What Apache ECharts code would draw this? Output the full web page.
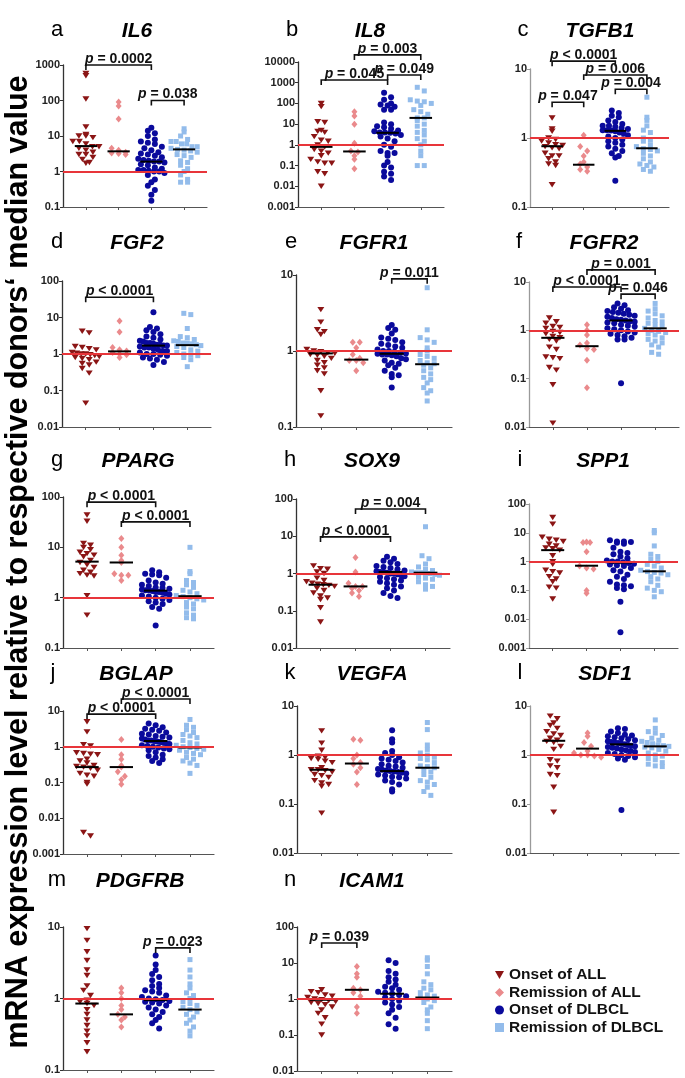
<!DOCTYPE html>
<html><head><meta charset="utf-8">
<script src="https://cdn.jsdelivr.net/npm/echarts@6/dist/echarts.min.js"></script>
<style>html,body{margin:0;padding:0;background:#fff}#c{width:685px;height:1078px}</style>
</head><body><div id="c"></div>
<script>
const GROUPS = ['Onset of ALL','Remission of ALL','Onset of DLBCL','Remission of DLBCL'];
const GENES = ['IL6','IL8','TGFB1','FGF2','FGFR1','FGFR2','PPARG','SOX9','SPP1','BGLAP','VEGFA','SDF1','PDGFRB','ICAM1'];
const LETTERS = ['a','b','c','d','e','f','g','h','i','j','k','l','m','n'];
const Y_MIN = [0.1,0.001,0.1,0.01,0.1,0.01,0.1,0.01,0.001,0.001,0.01,0.01,0.1,0.01];
const Y_MAX = [1000,10000,10,100,10,10,100,100,100,10,10,10,10,100];

const IL6 = [
 [580,500,110,18,11,10,10,9,7,7,6,5,5,4.5,4,3.5,3,3,2.5,2.2,1.8,1.7],
 [90,70,30,4.5,4,3.5,3.3,3.2,3],
 [17,14,12,10,8,7,6.5,6,5,4.5,4,3.5,3.2,3,2.8,2.5,2.3,2.1,2,1.9,1.9,1.8,1.6,1.5,1.3,1.2,1.1,1.1,1.05,1,1,0.9,0.8,0.6,0.5,0.4,0.3,0.22,0.15],
 [16,13,10,8,7,7,6,6,5,5,4.5,4.2,4,3.8,3.5,3,2.8,2.5,2,1.8,1.5,1.2,1,0.8,0.6,0.5,0.5]];
const IL8 = [
 [100,70,13,12,5,4.5,4,2.5,1.7,1.5,1,0.8,0.6,0.5,0.4,0.3,0.2,0.15,0.13,0.13,0.05,0.04,0.01],
 [40,25,10,1.2,0.5,0.45,0.3,0.2,0.07],
 [330,200,150,100,90,80,70,50,50,12,10,8,7,6,5,4.5,4,4,3.8,3.5,3,2.5,2,1.5,1,0.8,0.5,0.4,0.4,0.3,0.15,0.1,0.08,0.05,0.04,0.03,0.02],
 [600,400,150,130,120,100,80,50,40,30,20,15,20,10,8,5,4,3,2,1.5,1,0.5,0.3,0.1,0.1]];
const TGFB1 = [
 [1.95,1.35,1.25,1.0,0.95,0.9,0.85,0.8,0.78,0.75,0.72,0.7,0.6,0.55,0.55,0.5,0.45,0.42,0.4,0.21],
 [1.1,0.75,0.65,0.55,0.45,0.42,0.38,0.35,0.33],
 [2.5,2.3,2.1,2.0,1.8,1.7,1.6,1.5,1.5,1.45,1.4,1.35,1.3,1.3,1.28,1.25,1.2,1.15,1.1,1.05,1.0,0.95,0.9,0.85,0.8,0.75,0.7,0.65,0.6,0.55,0.52,0.24],
 [3.9,2.0,1.8,1.5,1.3,1.2,1.0,0.95,0.9,0.8,0.75,0.7,0.68,0.65,0.6,0.55,0.5,0.45,0.42,0.4,0.38,0.35,0.33]];
const FGF2 = [
 [4.2,3.8,1.6,1.5,1.4,1.3,1.1,1.05,1.0,1.0,0.95,0.9,0.85,0.8,0.75,0.7,0.6,0.55,0.5,0.4,0.3,0.045],
 [8,4,1.5,1.3,1.2,1.1,1.0,0.95,0.8],
 [14,5.5,5,4.5,4,3.5,3,2.8,2.5,2.3,2.2,2,2,1.9,1.8,1.8,1.7,1.7,1.6,1.5,1.5,1.4,1.3,1.2,1.2,1.1,1.0,1.0,0.95,0.9,0.8,0.75,0.7,0.6,0.5],
 [13,12,5,3,2.8,2.5,2.3,2.2,2,2,1.9,1.8,1.7,1.6,1.5,1.3,1.2,1.1,1,0.95,0.9,0.8,0.7,0.45]];
const FGFR1 = [
 [3.5,2.4,1.9,1.8,1.65,1.05,1.0,0.98,0.95,0.93,0.9,0.88,0.85,0.8,0.75,0.7,0.65,0.6,0.55,0.5,0.3,0.14],
 [1.3,1.3,1.1,0.9,0.8,0.75,0.75,0.7,0.55],
 [2.2,2.0,1.9,1.7,1.5,1.45,1.4,1.3,1.25,1.2,1.15,1.1,1.05,1.0,1.0,0.98,0.95,0.93,0.92,0.9,0.9,0.88,0.85,0.8,0.78,0.75,0.7,0.68,0.65,0.6,0.55,0.5,0.48,0.45,0.33],
 [6.8,1.9,1.5,1.4,1.3,1.1,1.0,0.9,0.85,0.8,0.75,0.7,0.68,0.65,0.6,0.55,0.5,0.45,0.42,0.38,0.33,0.3,0.28,0.22]];
const FGFR2 = [
 [1.8,1.5,1.4,1.2,1.15,1.1,0.95,0.9,0.85,0.75,0.7,0.65,0.6,0.45,0.4,0.28,0.27,0.26,0.17,0.15,0.075,0.012],
 [1.3,1.0,0.8,0.55,0.5,0.42,0.4,0.24,0.065],
 [3.6,3.3,3.0,2.8,2.6,2.5,2.4,2.3,2.2,2.1,2.0,1.9,1.8,1.7,1.65,1.6,1.55,1.5,1.45,1.4,1.3,1.25,1.2,1.1,1.05,1.0,0.95,0.9,0.85,0.8,0.75,0.7,0.65,0.65,0.08],
 [3.6,2.8,2.5,2.2,2.0,1.8,1.6,1.5,1.4,1.3,1.2,1.1,1.0,0.95,0.9,0.85,0.8,0.7,0.65,0.6,0.55,0.5,0.45,0.35,0.32]];
const PPARG = [
 [44,33,12,11,10,9,8,7.5,7,6.5,5.5,5,4.5,4,3.5,3.2,3,2.8,2.7,1.1,0.45],
 [15,10,7,5.5,5,3,2.8,2.8,2.2],
 [3.5,3.2,3,2.9,2.8,2.5,2.2,2,1.9,1.8,1.7,1.6,1.55,1.5,1.45,1.4,1.4,1.35,1.3,1.3,1.25,1.2,1.15,1.1,1.05,1.0,0.95,0.9,0.85,0.8,0.75,0.65,0.6,0.28],
 [10,3.3,3.0,2.2,2.0,1.8,1.6,1.4,1.3,1.2,1.1,1.05,1.0,0.95,0.9,0.8,0.75,0.65,0.6,0.5,0.45,0.4,0.38]];
const SOX9 = [
 [1.6,1.35,1.3,1.1,1.0,0.75,0.65,0.6,0.55,0.52,0.5,0.48,0.45,0.4,0.35,0.3,0.25,0.22,0.2,0.12,0.05],
 [2.7,1.1,0.55,0.45,0.45,0.4,0.35,0.3,0.24],
 [2.8,2.5,2.2,2.0,1.8,1.6,1.5,1.4,1.3,1.2,1.15,1.1,1.1,1.05,1.0,1.0,0.95,0.9,0.85,0.8,0.75,0.7,0.65,0.6,0.55,0.5,0.45,0.4,0.35,0.3,0.25,0.22],
 [18,3,2.5,1.8,1.5,1.3,1.2,1.1,1.05,1.05,1.0,1.0,0.95,0.9,0.8,0.75,0.7,0.6,0.5,0.45,0.38]];
const SPP1 = [
 [34,20,7,6,5.5,5,4,3.5,3,2.8,2.5,1.6,1.0,0.8,0.5,0.45,0.4,0.3,0.25,0.2,0.13,0.12,0.05],
 [4.8,4.6,4.6,2.2,0.7,0.6,0.55,0.1,0.08],
 [5.5,5,5,4.8,4.5,4.2,3,2.2,2,1.8,1.5,1.3,1.1,1,1,0.95,0.9,0.85,0.8,0.75,0.7,0.6,0.5,0.45,0.35,0.3,0.25,0.2,0.16,0.15,0.14,0.12,0.11,0.04,0.0035],
 [12,10,3.5,1.8,1.5,1.2,1.0,0.8,0.7,0.6,0.5,0.45,0.42,0.4,0.35,0.3,0.25,0.2,0.15,0.12,0.1,0.09,0.06]];
const BGLAP = [
 [5,2.6,1.15,1.05,0.68,0.65,0.62,0.6,0.45,0.4,0.35,0.3,0.28,0.27,0.25,0.22,0.18,0.16,0.15,0.1,0.09,0.004,0.0032],
 [1.6,0.6,0.45,0.3,0.27,0.2,0.15,0.12,0.09],
 [4.5,4,3.5,3.2,3,2.8,2.5,2.3,2.2,2,1.9,1.8,1.7,1.6,1.5,1.5,1.45,1.4,1.35,1.3,1.25,1.2,1.1,1.05,1,0.95,0.9,0.85,0.8,0.7,0.6,0.55,0.5,0.45,0.4,0.35],
 [5.8,4,3.5,3,2.5,2.2,2,1.8,1.5,1.3,1.2,1.1,1.0,0.95,0.9,0.85,0.8,0.7,0.65,0.6,0.5,0.45,0.4,0.35,0.3,0.18]];
const VEGFA = [
 [3.1,1.75,1.25,0.95,0.9,0.85,0.82,0.75,0.7,0.55,0.5,0.5,0.48,0.45,0.4,0.38,0.35,0.3,0.27,0.25,0.23,0.065],
 [2.1,2.0,1.0,0.85,0.7,0.65,0.55,0.45,0.25],
 [3.2,2.1,1.8,1.2,1.1,1.0,0.9,0.85,0.8,0.75,0.7,0.65,0.6,0.58,0.55,0.52,0.5,0.48,0.47,0.46,0.45,0.44,0.42,0.4,0.38,0.36,0.35,0.33,0.3,0.28,0.25,0.2,0.18],
 [4.6,3.3,1.6,1.3,1.1,1.0,0.9,0.85,0.8,0.7,0.6,0.58,0.55,0.5,0.45,0.4,0.35,0.3,0.28,0.25,0.22,0.18,0.15]];
const SDF1 = [
 [6.2,5.5,4.5,4.0,3.5,3.0,2.7,2.5,2.2,2.0,1.9,1.8,1.5,1.3,0.8,0.75,0.6,0.55,0.4,0.38,0.22,0.068],
 [2.8,2.4,1.8,1.5,1.2,1.1,1.0,1.0,0.95,0.9],
 [3.5,3.4,3.0,2.8,2.6,2.5,2.4,2.3,2.2,2.1,2.0,1.9,1.85,1.8,1.75,1.7,1.65,1.6,1.55,1.5,1.45,1.4,1.35,1.3,1.25,1.2,1.15,1.1,1.05,1.0,0.95,0.9,0.85,0.8,0.075],
 [5.2,3.5,3.0,2.8,2.5,2.2,2.0,1.9,1.8,1.7,1.6,1.55,1.5,1.45,1.4,1.3,1.2,1.1,1.0,0.95,0.85,0.8,0.7,0.65,0.6,0.58]];
const PDGFRB = [
 [9.5,6.5,4.5,3.4,2.5,2.1,1.5,1.3,1.1,0.95,0.9,0.85,0.8,0.7,0.6,0.5,0.42,0.35,0.3,0.24,0.18],
 [1.4,1.2,1.0,0.8,0.7,0.6,0.55,0.5,0.4],
 [4,3,2.5,2.2,2,1.8,1.6,1.5,1.4,1.3,1.25,1.2,1.1,1.05,1.0,0.98,0.95,0.92,0.9,0.88,0.85,0.8,0.75,0.7,0.65,0.6,0.55,0.5,0.45,0.38],
 [3.5,2.5,2,1.6,1.4,1.2,1.1,1.0,0.9,0.85,0.8,0.75,0.7,0.65,0.6,0.55,0.5,0.45,0.4,0.35,0.3]];
const ICAM1 = [
 [1.8,1.6,1.5,1.3,1.2,1.1,1.0,0.95,0.9,0.85,0.8,0.75,0.7,0.6,0.5,0.4,0.3,0.2,0.1],
 [8,5,4,2,1.8,1.5,1.2,0.6,0.4],
 [12,10,6,5,4,3.5,3,2.5,2.2,2,1.8,1.6,1.5,1.4,1.3,1.2,1.1,1.0,0.9,0.8,0.7,0.6,0.5,0.4,0.3,0.2,0.15],
 [14,12,8,5,3,2.5,2,1.8,1.5,1.3,1.2,1.1,1.0,0.9,0.8,0.6,0.5,0.4,0.25,0.15]];
const VALUES = [IL6,IL8,TGFB1,FGF2,FGFR1,FGFR2,PPARG,SOX9,SPP1,BGLAP,VEGFA,SDF1,PDGFRB,ICAM1];

const MEDIANS = [
 [5.2,3.7,1.9,4.2],[0.8,0.48,3.8,20],[0.76,0.41,1.27,0.71],[1.0,1.18,1.7,1.75],
 [0.93,0.77,0.92,0.67],[0.7,0.47,1.6,1.1],[5.2,5.0,1.38,1.07],[0.5,0.45,1.1,1.05],
 [2.5,0.72,0.93,0.46],[0.27,0.27,1.45,0.95],[0.5,0.67,0.47,0.55],[1.95,1.35,1.65,1.5],
 [0.85,0.6,0.95,0.7],[0.95,1.8,1.4,1.1]];

// [panel, from group, to group, bracket level, label]
const BRACKETS = [
 [0,1,3,1000,'p = 0.0002'],[0,3,4,100,'p = 0.038'],
 [1,2,4,22000,'p = 0.003'],[1,1,3,1350,'p = 0.045'],[1,3,4,2350,'p = 0.049'],
 [2,1,3,13,'p < 0.0001'],[2,2,4,8.2,'p = 0.006'],[2,3,4,5.1,'p = 0.004'],[2,1,2,3.3,'p = 0.047'],
 [3,1,3,36,'p < 0.0001'],
 [4,3,4,8.9,'p = 0.011'],
 [5,2,4,17.8,'p = 0.001'],[5,1,3,7.9,'p < 0.0001'],[5,3,4,5.6,'p = 0.046'],
 [6,1,3,79,'p < 0.0001'],[6,2,4,32,'p < 0.0001'],
 [7,2,4,54,'p = 0.004'],[7,1,3,9.6,'p < 0.0001'],
 [9,2,4,21.6,'p < 0.0001'],[9,1,3,8.2,'p < 0.0001'],
 [12,3,4,5.1,'p = 0.023'],
 [13,1,2,36,'p = 0.039']];

// ---- layout (pixels) ----
const LAYOUT = [
 [63,207,65,207],[298,444,62,207],[530,669,69,207],
 [62,211,281,427],[296,452,275,427],[529,679,282,427],
 [63,214,497,648],[296,450,499,648],[529,678,504,648],
 [63,214,711,854],[297,452,706,853],[530,679,706,853],
 [63,214,927,1070],[297,452,927,1071]];
const TITLE_X = [137,370,600,137,374,604,138,372,603,136,372,605,140,372];
const LETTER_X = [57,292,523,57,291,519,57,290,520,53,290,520,57,290];
const ROW_TOP = [21,233,451,664,871];
const X_MIN = 0.3, X_MAX = 4.7;
const FONT = '"Liberation Sans", Arial, Helvetica, sans-serif';
const COLORS = ['#8B1515','#EA8A8C','#0A0A9C','#93BCEB'];
const SYMBOLS = ['path://M0,0L10,0L5,9Z','diamond','circle','rect'];
const SIZES = [[7,6],[6,7],[6,6],[5,5]];

function swarm(vals, g, ppdY, ppuX){
  const rowPx = 5.5, rows = {};
  vals.forEach(v => { const r = Math.round(Math.log10(v)*ppdY/rowPx); (rows[r] = rows[r] || []).push(v); });
  const out = [];
  Object.keys(rows).forEach(r => {
    const arr = rows[r], n = arr.length;
    let dx = 7/ppuX; const half = 0.4;
    if (n > 1 && (n-1)*dx/2 > half) dx = 2*half/(n-1);
    arr.forEach((v,k) => out.push([g + (k-(n-1)/2)*dx, v]));
  });
  return out;
}
function fmt(v){ const e = Math.round(Math.log10(v)); return e >= 0 ? String(Math.pow(10,e)) : Math.pow(10,e).toFixed(-e); }

const grid=[], xAxis=[], yAxis=[], series=[], title=[];
GENES.forEach((gene,p) => {
  const [x0,x1,y0,y1] = LAYOUT[p];
  grid.push({left:x0, top:y0, width:x1-x0, height:y1-y0});
  const col = p % 3;
  xAxis.push({gridIndex:p, type:'value', min:X_MIN, max:X_MAX,
    axisLine:{show:true, lineStyle:{color:'#555', width:1.2}},
    axisTick:{show:true, customValues:[1,2,3,4], length:3, lineStyle:{color:'#555'}},
    axisLabel:{show:false}, splitLine:{show:false}});
  yAxis.push({gridIndex:p, type:'log', logBase:10, min:Y_MIN[p], max:Y_MAX[p], splitNumber:10,
    axisLine:{show:true, lineStyle:{color: col===2 ? '#9a9a9a' : '#333', width:1.3}},
    axisTick:{show:true, length:3, lineStyle:{color: col===2 ? '#9a9a9a' : '#333'}},
    axisLabel:{fontFamily:FONT, fontWeight:'bold', fontSize:11, color:'#222', margin:3, formatter:fmt},
    splitLine:{show:false}, minorTick:{show:false}});
  const ppdY = (y1-y0)/Math.log10(Y_MAX[p]/Y_MIN[p]);
  const ppuX = (x1-x0)/(X_MAX-X_MIN);
  series.push({type:'scatter', xAxisIndex:p, yAxisIndex:p, data:[], z:1, silent:true,
    markLine:{silent:true, symbol:['none','none'], label:{show:false}, animation:false,
      lineStyle:{color:'#E8353A', width:1.8, type:'solid'}, data:[{yAxis:1}]}});
  VALUES[p].forEach((vals,g) => {
    series.push({type:'scatter', name:GROUPS[g], xAxisIndex:p, yAxisIndex:p, z:2,
      symbol:SYMBOLS[g], symbolSize:SIZES[g], symbolKeepAspect:true,
      itemStyle:{color:COLORS[g], opacity:1}, data:swarm(vals, g+1, ppdY, ppuX), animation:false});
  });
  series.push({type:'custom', xAxisIndex:p, yAxisIndex:p, z:3, silent:true, animation:false,
    encode:{x:0, y:1}, data:MEDIANS[p].map((m,g) => [g+1, m]),
    renderItem:(params, api) => {
      const a = api.coord([api.value(0)-0.34, api.value(1)]), b = api.coord([api.value(0)+0.34, api.value(1)]);
      return {type:'line', shape:{x1:a[0], y1:a[1], x2:b[0], y2:b[1]}, style:{stroke:'#000', lineWidth:2}};
    }});
  const br = BRACKETS.filter(b => b[0] === p);
  if (br.length) series.push({type:'custom', xAxisIndex:p, yAxisIndex:p, z:4, silent:true, clip:false, animation:false,
    encode:{x:[0,1], y:2}, data:br.map(b => [b[1], b[2], b[3]]),
    renderItem:(params, api) => {
      const b = br[params.dataIndex];
      const p1 = api.coord([b[1], b[3]]), p2 = api.coord([b[2], b[3]]);
      const tick = 5;
      return {type:'group', children:[
        {type:'polyline', shape:{points:[[p1[0],p1[1]+tick],[p1[0],p1[1]],[p2[0],p2[1]],[p2[0],p2[1]+tick]]},
         style:{stroke:'#111', lineWidth:1.6, fill:null}},
        {type:'text', x:(p1[0]+p2[0])/2, y:p1[1]+1,
         style:{text:'{i|p}{n|' + b[4].slice(1) + '}', align:'center', verticalAlign:'bottom',
           textAlign:'center', textVerticalAlign:'bottom',
           rich:{i:{fontFamily:FONT, fontWeight:'bold', fontStyle:'italic', fontSize:14, fill:'#111', color:'#111'},
                 n:{fontFamily:FONT, fontWeight:'bold', fontSize:14, fill:'#111', color:'#111'}}}}
      ]};
    }});
  const rowTop = ROW_TOP[Math.floor(p/3)];
  title.push({text:gene, left:TITLE_X[p], top:rowTop, textAlign:'center', padding:0,
    textStyle:{fontFamily:FONT, fontWeight:'bold', fontStyle:'italic', fontSize:21, color:'#000'}});
  title.push({text:LETTERS[p], left:LETTER_X[p], top:rowTop-2, textAlign:'center', padding:0,
    textStyle:{fontFamily:FONT, fontWeight:'normal', fontSize:22, color:'#000'}});
});

const chart = echarts.init(document.getElementById('c'), null, {renderer:'canvas'});
chart.setOption({
  animation:false, backgroundColor:'#fff',
  title, grid, xAxis, yAxis, series,
  legend:{data:GROUPS, orient:'vertical', left:490, top:962, itemWidth:9, itemHeight:9, itemGap:1.5,
    selectedMode:false, textStyle:{fontFamily:FONT, fontWeight:'bold', fontSize:15.5, color:'#111'}},
  graphic:[{type:'text', x:19, y:562, rotation:Math.PI/2,
    style:{text:'mRNA expression level relative to respective donors\u2018 median value',
      font:'bold 30.5px "Liberation Sans", Arial, sans-serif', fill:'#000', align:'center', verticalAlign:'middle',
      textAlign:'center', textVerticalAlign:'middle'}}]
});
</script></body></html>
